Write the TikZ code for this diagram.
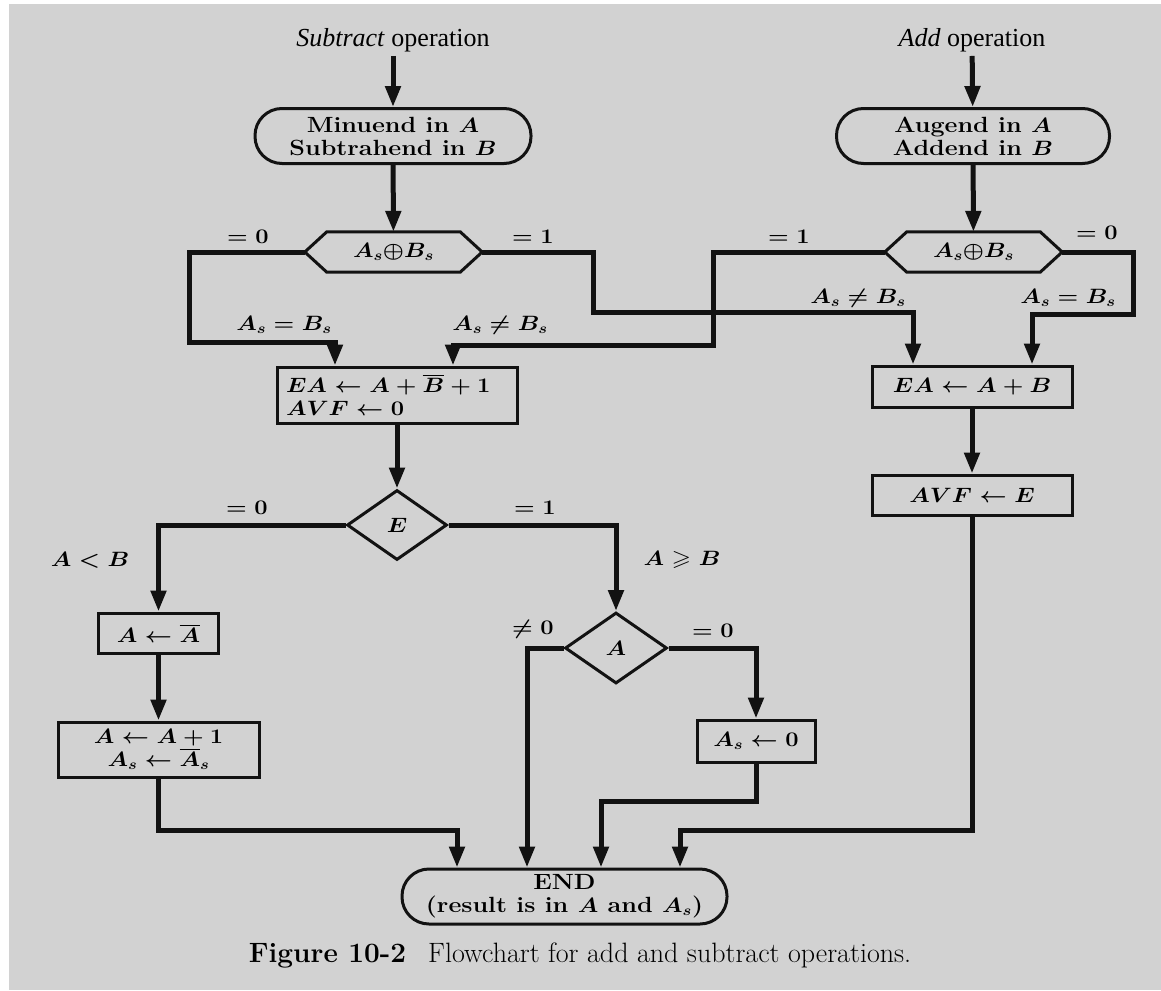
\documentclass[tikz,border=0pt]{standalone}
\usepackage{fontspec}
\usepackage{amsmath,amssymb,bm}
\usepackage{graphicx}
\usetikzlibrary{arrows.meta,shapes.geometric}
\newfontfamily\titlefont{Liberation Serif}
\definecolor{paper}{RGB}{210,210,210}
\definecolor{ink}{RGB}{18,18,18}
% box lettering is heavy and set wide
\newcommand{\stretchx}[1]{\scalebox{1.14}[1]{#1}}
\newcommand{\boxfont}{\fontsize{22}{23}\selectfont\bfseries\boldmath}
\tikzset{
  box/.style={draw=ink, line width=3pt, rectangle, inner sep=0pt, align=center, font=\boxfont},
  term/.style={box, rounded corners=27pt},
  dec/.style={draw=ink, line width=3pt, diamond, inner sep=0pt, font=\boxfont},
  hexn/.style={inner sep=0pt, font=\boxfont, minimum width=177pt, minimum height=40pt},
  hexline/.style={draw=ink, line width=3pt},
  flow/.style={draw=ink, line width=5pt, -{Triangle[length=21pt,width=15pt]}},
  lbl/.style={font=\boxfont, inner sep=0pt},
  ttl/.style={font=\titlefont\fontsize{26}{28}\selectfont, inner sep=4pt},
}
\begin{document}
\begin{tikzpicture}[x=1pt,y=-1pt]
\useasboundingbox (0,0) rectangle (1161,990);
\fill[white] (0,0) rectangle (1161,990);
\fill[paper] (9,4) rectangle (1161,990);

% entry points
\node[ttl] (tsub) at (393,40) {\textit{Subtract} operation};
\node[ttl] (tadd) at (972,40) {\textit{Add} operation};

% operand boxes
\node[term, minimum width=276pt, minimum height=55pt] (mbox) at (393,136)
  {\stretchx{Minuend in $A$}\\ \stretchx{Subtrahend in $B$}};
\node[term, minimum width=273pt, minimum height=55pt] (abox) at (973,136)
  {\stretchx{Augend in $A$}\\ \stretchx{Addend in $B$}};

% sign comparisons
\node[hexn] (h1) at (393.5,252) {\stretchx{$A_s{\bm{\oplus}}B_s$}};
\node[hexn] (h2) at (973.5,252) {\stretchx{$A_s{\bm{\oplus}}B_s$}};
\foreach \h in {h1,h2}
  \draw[hexline] (\h.west) -- ([xshift=22pt]\h.north west) -- ([xshift=-22pt]\h.north east)
    -- (\h.east) -- ([xshift=-22pt]\h.south east) -- ([xshift=22pt]\h.south west) -- cycle;

% arithmetic
\node[box, minimum width=240pt, minimum height=56pt, text width=222pt, align=left] (b1) at (397,395)
  {\stretchx{$EA \leftarrow A + \overline{B} + 1$}\\ \stretchx{$AVF \leftarrow 0$}};
\node[box, minimum width=200pt, minimum height=41pt] (b2) at (972,386.5)
  {\stretchx{$EA \leftarrow A + B$}};
\node[box, minimum width=200pt, minimum height=40pt] (b3) at (972,495)
  {\stretchx{$AVF \leftarrow E$}};

% end-carry test and its branches
\node[dec, minimum width=100pt, minimum height=70pt] (e) at (397,525) {\stretchx{$E$}};
\node[box, minimum width=120pt, minimum height=40pt] (b4) at (158.5,633)
  {\stretchx{$A \leftarrow \overline{A}$}};
\node[box, minimum width=201pt, minimum height=55pt] (b5) at (158.5,749.5)
  {\stretchx{$A \leftarrow A + 1$}\\ \stretchx{$A_s \leftarrow \overline{A}_s$}};
\node[dec, minimum width=102pt, minimum height=71pt] (a) at (616,648) {\stretchx{$A$}};
\node[box, minimum width=118pt, minimum height=42pt] (b6) at (756,741)
  {\stretchx{$A_s \leftarrow 0$}};

\node[term, minimum width=325pt, minimum height=55pt] (end) at (564.5,896.5)
  {\stretchx{END}\\ \stretchx{(result is in $A$ and $A_s$)}};

% connectors
\draw[flow] (tsub) -- (mbox);
\draw[flow] (tadd) -- (abox);
\draw[flow] (mbox) -- (h1);
\draw[flow] (abox) -- (h2);
\draw[flow] (h1.west) -- ++(-115,0) -- ++(0,90) -| ([xshift=-62pt]b1.north);
\draw[flow] (h1.east) -- ++(111,0) -- ++(0,60) -| ([xshift=-59pt]b2.north);
\draw[flow] (h2.west) -- ++(-171,0) -- ++(0,93) -| ([xshift=56pt]b1.north);
\draw[flow] (h2.east) -- ++(71,0) -- ++(0,62) -| ([xshift=60pt]b2.north);
\draw[flow] (b1) -- (e);
\draw[flow] (b2) -- (b3);
\draw[flow] (e.west) -| (b4.north);
\draw[flow] (e.east) -| (a.north);
\draw[flow] (b4) -- (b5);
\draw[flow] (a.east) -| (b6.north);
\draw[flow] (b5.south) -- ++(0,52) -| ([xshift=-107.5pt]end.north);
\draw[flow] (a.west) -| ([xshift=-37.5pt]end.north);
\draw[flow] (b6.south) -- ++(0,38) -| ([xshift=36.5pt]end.north);
\draw[flow] (b3.south) -- ++(0,314) -| ([xshift=115.5pt]end.north);

% branch labels
\node[lbl] (l1) at (248,237) {\stretchx{$=0$}};
\node[lbl] (l2) at (533,237) {\stretchx{$=1$}};
\node[lbl] (l3) at (284,325) {\stretchx{$A_s = B_s$}};
\node[lbl] (l4) at (500,325) {\stretchx{$A_s \neq B_s$}};
\node[lbl] (l5) at (789,237) {\stretchx{$=1$}};
\node[lbl] (l6) at (1097,233) {\stretchx{$=0$}};
\node[lbl] (l7) at (858,298) {\stretchx{$A_s \neq B_s$}};
\node[lbl] (l8) at (1068,298) {\stretchx{$A_s = B_s$}};
\node[lbl] (l9) at (247,508) {\stretchx{$=0$}};
\node[lbl] (l10) at (535,508) {\stretchx{$=1$}};
\node[lbl] (l11) at (90,560) {\stretchx{$A < B$}};
\node[lbl] (l12) at (682,560) {\stretchx{$A \geqslant B$}};
\node[lbl] (l13) at (533,629) {\stretchx{$\neq 0$}};
\node[lbl] (l14) at (713,631) {\stretchx{$=0$}};

% caption
\node[font=\fontsize{28}{30}\selectfont, inner sep=0pt] (cap) at (580,955)
  {\textbf{Figure 10-2}\hspace{22pt}Flowchart for add and subtract operations.};
\end{tikzpicture}
\end{document}
